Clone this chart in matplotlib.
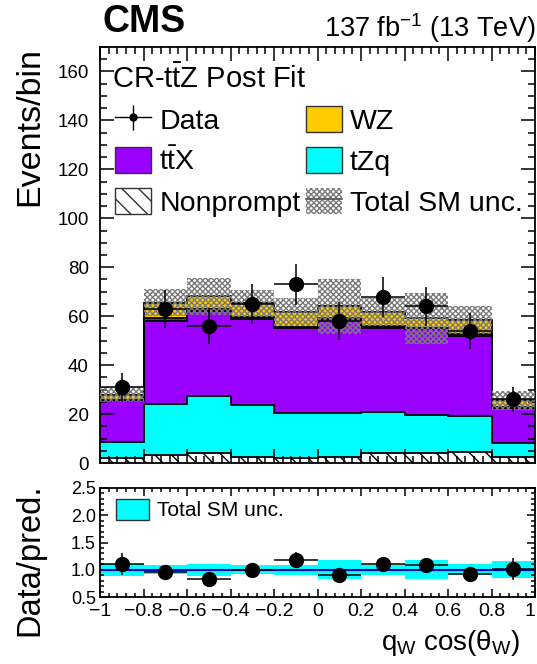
import numpy as np
import matplotlib
matplotlib.use("Agg")
import matplotlib.pyplot as plt
from matplotlib.patches import Patch
from matplotlib.lines import Line2D
from matplotlib.ticker import MultipleLocator

plt.rcParams["font.family"] = ["Liberation Sans", "DejaVu Sans"]
plt.rcParams["mathtext.fontset"] = "custom"
plt.rcParams["mathtext.rm"] = "Liberation Sans"
plt.rcParams["mathtext.it"] = "Liberation Sans:italic"
plt.rcParams["mathtext.bf"] = "Liberation Sans:bold"
plt.rcParams["hatch.linewidth"] = 1.0

# binning in q_W cos(theta_W)
edges = np.linspace(-1.0, 1.0, 11)
centers = 0.5 * (edges[:-1] + edges[1:])

# post-fit yields per process (stacked bottom -> top)
nonprompt = np.array([1.9, 3.2, 4.0, 2.6, 2.0, 2.6, 4.2, 4.2, 4.5, 2.6])
tzq = np.array([6.8, 21.0, 23.5, 21.2, 18.6, 17.8, 16.8, 15.5, 14.8, 5.5])
ttx = np.array([16.5, 33.8, 34.5, 35.2, 34.4, 37.9, 34.2, 34.9, 32.8, 14.3])
other = np.array([0.6, 1.2, 0.8, 0.7, 0.6, 0.8, 0.6, 0.7, 0.8, 0.5])
wz = np.array([2.1, 6.3, 5.4, 5.5, 6.2, 5.0, 6.0, 3.8, 5.5, 2.7])
total_unc = np.array([3.1, 5.5, 7.6, 5.5, 5.8, 11.2, 5.8, 10.5, 5.7, 3.9])

data = np.array([31, 63, 56, 65, 73, 58, 68, 64, 54, 26])
data_err = np.array([5.6, 7.9, 7.5, 8.1, 8.5, 7.6, 8.2, 8.0, 7.3, 5.1])

col_ttx = "#9a00ff"
col_tzq = "#00ffff"
col_wz = "#ffcc00"
col_other = "#2e5e1e"
col_unc = "#7a7a7a"

fig = plt.figure(figsize=(5.37, 6.64), dpi=100)
ax = fig.add_axes([100 / 537, 1 - 463 / 664, 435 / 537, 416 / 664])
rax = fig.add_axes([100 / 537, 1 - 597 / 664, 435 / 537, 109 / 664])

# stacked histogram
bottom = np.zeros(len(centers))
stack = [
    (nonprompt, "white", "\\\\"),
    (tzq, col_tzq, None),
    (ttx, col_ttx, None),
    (other, col_other, None),
    (wz, col_wz, None),
]
for vals, color, hatch in stack:
    ax.bar(centers, vals, width=0.2, bottom=bottom, color=color, hatch=hatch,
           edgecolor="black", linewidth=0, zorder=1)
    bottom = bottom + vals
    ax.stairs(bottom, edges, baseline=None, color="black", linewidth=1.3, zorder=2)

total = bottom
ax.bar(centers, 2 * total_unc, width=0.2, bottom=total - total_unc, fill=False,
       hatch="xxxxxx", edgecolor=col_unc, linewidth=0, zorder=3)

ax.errorbar(centers, data, yerr=data_err, xerr=0.1, fmt="o", color="black",
            markersize=10, elinewidth=1.1, capsize=0, zorder=4)

ax.set_xlim(-1, 1)
ax.set_ylim(0, 170)
ax.xaxis.set_major_locator(MultipleLocator(0.2))
ax.xaxis.set_minor_locator(MultipleLocator(0.04))
ax.yaxis.set_major_locator(MultipleLocator(20))
ax.yaxis.set_minor_locator(MultipleLocator(5))
ax.tick_params(which="both", direction="in", top=True, right=True, width=1.1)
ax.tick_params(which="major", length=10)
ax.tick_params(which="minor", length=5)
ax.tick_params(axis="y", labelsize=13.5, pad=8)
ax.tick_params(axis="x", labelbottom=False)
for sp in ax.spines.values():
    sp.set_linewidth(1.3)

# legend
h_data = (Line2D([], [], color="black", lw=1.0),
          Line2D([], [], marker="|", ms=18, mew=1.0, ls="none", color="black"),
          Line2D([], [], marker="o", ms=5, ls="none", color="black"))
h_ttx = Patch(facecolor=col_ttx, edgecolor="#333333", lw=1)
h_np = Patch(facecolor="white", edgecolor="#333333", hatch="\\\\", lw=1)
h_wz = Patch(facecolor=col_wz, edgecolor="#333333", lw=1)
h_tzq = Patch(facecolor=col_tzq, edgecolor="#333333", lw=1)
h_unc = (Patch(facecolor="none", edgecolor=col_unc, hatch="xxxxxx", lw=0),
         Line2D([], [], color="#555555", lw=1.2))
ax.legend([h_data, h_ttx, h_np, h_wz, h_tzq, h_unc],
          ["Data", r"t$\bar{\mathrm{t}}$X", "Nonprompt", "WZ", "tZq", "Total SM unc."],
          ncol=2, loc="upper left", bbox_to_anchor=(15 / 435, (463 - 106) / 416),
          frameon=False, fontsize=20.5, handlelength=1.27, handleheight=1.05,
          handletextpad=0.28, labelspacing=0.42, columnspacing=0.18,
          borderpad=0, borderaxespad=0)

fig.text(112 / 537, 1 - 88 / 664, r"CR-t$\bar{\mathrm{t}}$Z Post Fit", fontsize=21, va="baseline")
fig.text(102 / 537, 1 - 32 / 664, "CMS", fontsize=27, fontweight="bold", va="baseline")
fig.text(535 / 537, 1 - 37 / 664, r"137 fb$^{-1}$ (13 TeV)", fontsize=19.5, ha="right", va="baseline")
fig.text(30 / 537, 1 - 47 / 664, "Events/bin", fontsize=24.5, rotation=90, ha="center", va="top")

# ratio panel
ratio = data / total
ratio_err = data_err / total
rel_unc = total_unc / total
rax.bar(centers, 2 * rel_unc, width=0.2, bottom=1 - rel_unc, color=col_tzq, linewidth=0, zorder=1)
rax.axhline(1.0, color="#0000cc", linewidth=1.5, zorder=2)
rax.errorbar(centers, ratio, yerr=ratio_err, xerr=0.1, fmt="o", color="black",
             markersize=10, elinewidth=1.1, capsize=0, zorder=3)
rax.set_xlim(-1, 1)
rax.set_ylim(0.5, 2.5)
rax.xaxis.set_major_locator(MultipleLocator(0.2))
rax.xaxis.set_minor_locator(MultipleLocator(0.04))
rax.yaxis.set_major_locator(MultipleLocator(0.5))
rax.yaxis.set_minor_locator(MultipleLocator(0.1))
rax.tick_params(which="both", direction="in", top=True, right=True, width=1.1)
rax.tick_params(which="major", length=6)
rax.tick_params(which="minor", length=3)
rax.tick_params(axis="y", labelsize=13, pad=3)
rax.tick_params(axis="x", labelsize=14, pad=4)
xt = np.round(np.arange(-1.0, 1.01, 0.2), 1)
rax.set_xticks(xt)
rax.set_xticklabels([("%g" % v).replace("-", "\u2212") if v != 0 else "0" for v in xt])
rax.get_xticklabels()[-1].set_horizontalalignment("right")
rax.set_yticks([0.5, 1.0, 1.5, 2.0, 2.5])
rax.set_yticklabels(["0.5", "1.0", "1.5", "2.0", "2.5"])
for sp in rax.spines.values():
    sp.set_linewidth(1.3)

rax.legend([Patch(facecolor=col_tzq, edgecolor="#333333", lw=1)], ["Total SM unc."],
           loc="upper left", bbox_to_anchor=(16 / 435, (597 - 499) / 109), frameon=False,
           fontsize=15, handlelength=1.6, handleheight=1.15, handletextpad=0.38,
           borderpad=0, borderaxespad=0)

fig.text(30 / 537, 1 - 483 / 664, "Data/pred.", fontsize=23.5, rotation=90, ha="center", va="top")
fig.text(520 / 537, 1 - 650 / 664, r"q$_{\mathrm{W}}$ cos(θ$_{\mathrm{W}}$)", fontsize=20,
         ha="right", va="baseline")

fig.savefig("out.png", dpi=100)
